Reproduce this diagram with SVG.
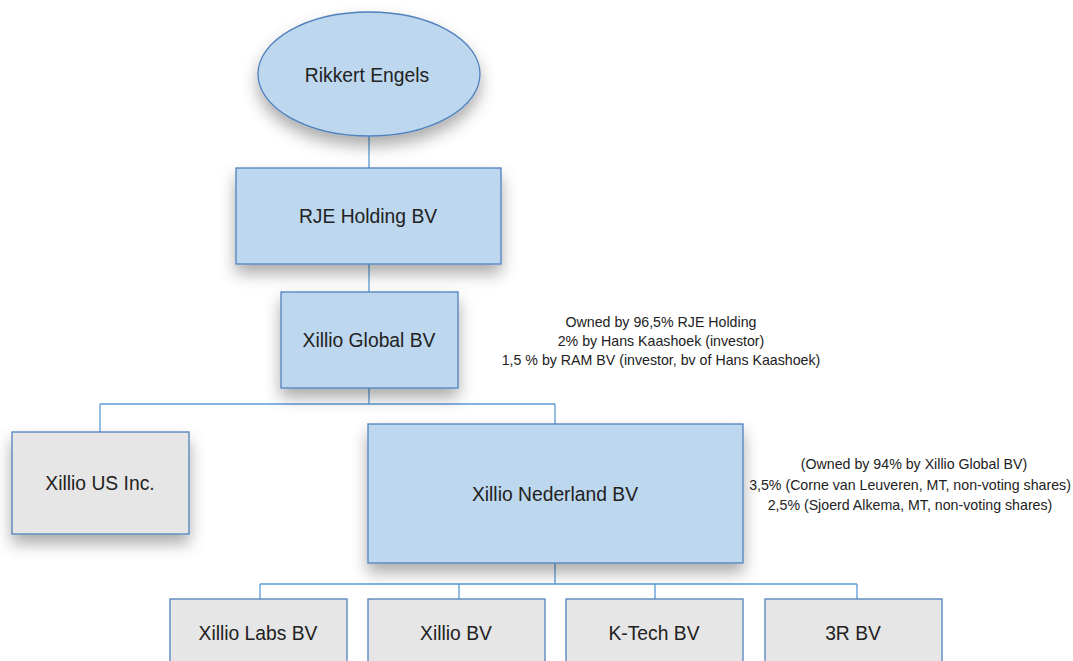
<svg xmlns="http://www.w3.org/2000/svg" width="1073" height="661" viewBox="0 0 1073 661">
<defs>
<filter id="sh" x="-20%" y="-20%" width="140%" height="160%">
<feDropShadow dx="0" dy="9" stdDeviation="8" flood-color="#000" flood-opacity="0.33"/>
</filter>
<style>
.blue{fill:#BDD7EE;stroke:#4F81BD;stroke-width:1.3}
.grey{fill:#E6E6E6;stroke:#4F81BD;stroke-width:1.3}
.lbl{font-family:"Liberation Sans",Arial,sans-serif;font-size:19.3px;fill:#222;text-anchor:middle;dominant-baseline:central}
.note{font-family:"Liberation Sans",Arial,sans-serif;font-size:14.2px;fill:#222;text-anchor:middle}
.con{fill:none;stroke:#5B9BD5;stroke-width:1.3}
</style>
</defs>
<rect width="1073" height="661" fill="#fff"/>
<g id="connectors">
<path class="con" d="M369 136V168"/>
<path class="con" d="M369 264V292"/>
<path class="con" d="M369 388V404M100 404H555M100 404V432M555 404V424"/>
<path class="con" d="M555 563V584M260 584H857M260 584V599M459 584V599M655 584V599M857 584V599"/>
</g>
<g id="rikkert-engels">
<ellipse class="blue" cx="369" cy="74" rx="111" ry="62" filter="url(#sh)"/>
<text class="lbl" x="367" y="75">Rikkert Engels</text>
</g>
<g id="rje-holding">
<rect class="blue" x="236" y="168" width="265" height="96" filter="url(#sh)"/>
<text class="lbl" x="368" y="216">RJE Holding BV</text>
</g>
<g id="xillio-global">
<rect class="blue" x="281" y="292" width="177" height="96" filter="url(#sh)"/>
<text class="lbl" x="369" y="340">Xillio Global BV</text>
</g>
<g id="note-global">
<text class="note" x="661" y="327">Owned by 96,5% RJE Holding</text>
<text class="note" x="661" y="346">2% by Hans Kaashoek (investor)</text>
<text class="note" x="661" y="365">1,5 % by RAM BV (investor, bv of Hans Kaashoek)</text>
</g>
<g id="xillio-us">
<rect class="grey" x="12" y="432" width="177" height="102" filter="url(#sh)"/>
<text class="lbl" x="100" y="483">Xillio US Inc.</text>
</g>
<g id="xillio-nederland">
<rect class="blue" x="368" y="424" width="375" height="139" filter="url(#sh)"/>
<text class="lbl" x="555" y="494">Xillio Nederland BV</text>
</g>
<g id="note-nederland">
<text class="note" x="914" y="469">(Owned by 94% by Xillio Global BV)</text>
<text class="note" x="910" y="490">3,5% (Corne van Leuveren, MT, non-voting shares)</text>
<text class="note" x="910" y="510">2,5% (Sjoerd Alkema, MT, non-voting shares)</text>
</g>
<g id="xillio-labs">
<rect class="grey" x="170" y="599" width="177" height="80"/>
<text class="lbl" x="258" y="633">Xillio Labs BV</text>
</g>
<g id="xillio-bv">
<rect class="grey" x="368" y="599" width="177" height="80"/>
<text class="lbl" x="456" y="633">Xillio BV</text>
</g>
<g id="k-tech">
<rect class="grey" x="566" y="599" width="177" height="80"/>
<text class="lbl" x="654" y="633">K-Tech BV</text>
</g>
<g id="r3-bv">
<rect class="grey" x="765" y="599" width="177" height="80"/>
<text class="lbl" x="853" y="633">3R BV</text>
</g>
</svg>
